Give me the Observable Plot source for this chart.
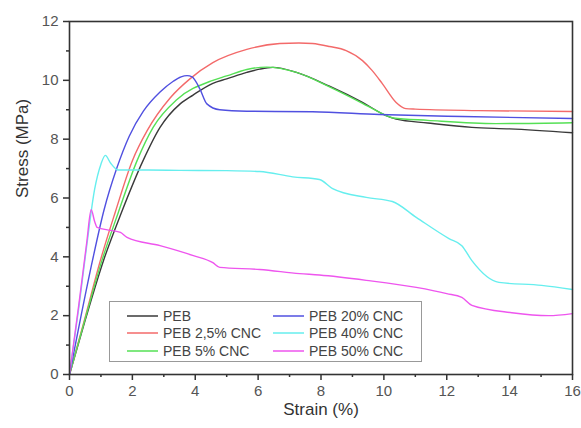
<!DOCTYPE html>
<html>
<head>
<meta charset="utf-8">
<script src="https://cdn.jsdelivr.net/npm/d3@7"></script>
<script src="https://cdn.jsdelivr.net/npm/@observablehq/plot@0.6"></script>
<style>
  body { margin: 0; background: #fff; font-family: "Liberation Sans", Arial, sans-serif; }
  #wrap { position: relative; width: 581px; height: 428px; }
  #legend { position: absolute; left: 109px; top: 301px; width: 313px; height: 61px;
    border: 1.5px solid #999; box-sizing: border-box; background: #fff;
    display: grid; grid-template-columns: 163px 150px; grid-template-rows: repeat(3, 17.5px);
    grid-auto-flow: column; padding-top: 5px; font-size: 14px; color: #444; }
  .item { display: flex; align-items: center; white-space: nowrap; }
  .item svg { margin: 0 5px 0 17px; flex: none; }
  .item.c2 svg { margin-left: 0; }
</style>
</head>
<body>
<div id="wrap"><div id="chart"></div><div id="legend"></div></div>
<script>
const seriesNames = ["PEB", "PEB 2,5% CNC", "PEB 5% CNC", "PEB 20% CNC", "PEB 40% CNC", "PEB 50% CNC"];
const seriesColors = ["#3a3a3a", "#f36a6a", "#55e055", "#5050e0", "#66eeee", "#ee55ee"];

const pebStrain   = [0, 0.5, 1.08, 1.65, 2.34, 2.88, 3.52, 3.93, 4.56, 5.0, 5.64, 6.05, 6.47, 7.22, 8.27, 9.32, 10.07, 10.39, 11.4, 12.8, 14, 16];
const pebStress   = [0, 1.85, 3.87, 5.5, 7.27, 8.4, 9.2, 9.5, 9.9, 10.05, 10.27, 10.38, 10.44, 10.27, 9.8, 9.25, 8.8, 8.68, 8.55, 8.4, 8.35, 8.22];

const peb25Strain = [0, 0.5, 0.98, 1.45, 2.0, 2.47, 3.2, 3.83, 4.56, 5.64, 6.69, 7.3, 7.73, 8.27, 8.8, 9.32, 9.63, 9.95, 10.39, 10.7, 11, 13, 16];
const peb25Stress = [0, 1.95, 3.87, 5.5, 7.27, 8.29, 9.4, 10.05, 10.6, 11.05, 11.25, 11.27, 11.25, 11.15, 11.01, 10.67, 10.33, 9.89, 9.25, 9.04, 9.02, 8.97, 8.94];

const peb5Strain  = [0, 0.5, 1.03, 1.55, 2.15, 2.66, 3.42, 4.56, 5.0, 5.64, 6.27, 7.22, 8.27, 9.32, 9.85, 10.3, 11.4, 13.56, 16];
const peb5Stress  = [0, 1.9, 3.87, 5.5, 7.27, 8.4, 9.35, 10.0, 10.15, 10.37, 10.45, 10.27, 9.78, 9.22, 8.92, 8.72, 8.64, 8.53, 8.56];

const peb20Strain = [0, 0.35, 0.73, 1.1, 1.5, 1.9, 2.35, 2.88, 3.3, 3.55, 3.74, 3.9, 4.15, 4.37, 4.78, 5.64, 7.73, 9.85, 12.5, 16];
const peb20Stress = [0, 1.9, 3.87, 5.6, 7.0, 8.1, 8.95, 9.6, 9.97, 10.12, 10.16, 10.12, 9.7, 9.2, 9.0, 8.95, 8.93, 8.84, 8.77, 8.7];

const peb40Strain = [0, 0.3, 0.55, 0.8, 1.0, 1.14, 1.3, 1.55, 2.5, 3.5, 5.0, 6.05, 7.1, 7.95, 8.37, 9.44, 10.27, 11.03, 12.07, 12.48, 12.8, 13.66, 15.02, 16];
const peb40Stress = [0, 2.3, 4.4, 6.3, 7.15, 7.45, 7.2, 6.95, 6.95, 6.94, 6.93, 6.9, 6.72, 6.63, 6.32, 6.02, 5.88, 5.34, 4.62, 4.38, 3.87, 3.13, 3.03, 2.89];

const peb50Strain = [0, 0.3, 0.55, 0.69, 0.8, 0.88, 1.3, 1.62, 1.83, 2.88, 3.94, 4.56, 4.78, 6.05, 7.32, 7.95, 9.44, 11.03, 12.0, 12.48, 12.8, 14.07, 15.24, 16];
const peb50Stress = [0, 2.4, 4.5, 5.6, 5.2, 5.0, 4.9, 4.83, 4.66, 4.38, 4.04, 3.8, 3.64, 3.57, 3.43, 3.38, 3.2, 2.96, 2.75, 2.62, 2.35, 2.1, 2.0, 2.07];

const xMajor = [0, 2, 4, 6, 8, 10, 12, 14, 16];
const xMinor = [1, 3, 5, 7, 9, 11, 13, 15];
const yMajor = [0, 2, 4, 6, 8, 10, 12];
const yMinor = [1, 3, 5, 7, 9, 11];

const strains = [pebStrain, peb25Strain, peb5Strain, peb20Strain, peb40Strain, peb50Strain];
const stresses = [pebStress, peb25Stress, peb5Stress, peb20Stress, peb40Stress, peb50Stress];

const rows = [];
seriesNames.forEach((name, i) => {
  strains[i].forEach((s, j) => rows.push({series: name, strain: s, stress: stresses[i][j]}));
});

const plot = Plot.plot({
  width: 581,
  height: 428,
  marginLeft: 69,
  marginRight: 9,
  marginTop: 21,
  marginBottom: 54,
  style: {fontFamily: "'Liberation Sans', Arial, sans-serif", background: "#fff"},
  x: {domain: [0, 16]},
  y: {domain: [0, 12]},
  color: {domain: seriesNames, range: seriesColors},
  marks: [
    Plot.line(rows, {x: "strain", y: "stress", z: "series", stroke: "series", strokeWidth: 1.4, curve: "monotone-x"}),
    Plot.frame({stroke: "#333", strokeWidth: 1.6}),
    Plot.axisX({ticks: xMajor, tickSize: 6, tickPadding: 5, fontSize: 15, stroke: "#333", strokeWidth: 1.5, fill: "#555", label: null, tickFormat: d => d}),
    Plot.axisX({ticks: xMinor, tickSize: 3, fontSize: 1, stroke: "#333", strokeWidth: 1.5, label: null, tickFormat: () => ""}),
    Plot.axisY({ticks: yMajor, tickSize: 6, tickPadding: 5, fontSize: 15, stroke: "#333", strokeWidth: 1.5, fill: "#555", label: null, tickFormat: d => d}),
    Plot.axisY({ticks: yMinor, tickSize: 3, fontSize: 1, stroke: "#333", strokeWidth: 1.5, label: null, tickFormat: () => ""}),
    Plot.text(["Strain (%)"], {frameAnchor: "bottom", dy: 40, fontSize: 17, fill: "#333"}),
    Plot.text(["Stress (MPa)"], {frameAnchor: "left", dx: -47, rotate: -90, fontSize: 17, fill: "#333"})
  ]
});
document.getElementById("chart").appendChild(plot);

const legend = document.getElementById("legend");
seriesNames.forEach((name, i) => {
  const it = document.createElement("div");
  it.className = "item" + (i >= 3 ? " c2" : "");
  const ns = "http://www.w3.org/2000/svg";
  const sv = document.createElementNS(ns, "svg");
  sv.setAttribute("width", "31");
  sv.setAttribute("height", "4");
  const ln = document.createElementNS(ns, "line");
  ln.setAttribute("x1", "0"); ln.setAttribute("x2", "31");
  ln.setAttribute("y1", "2"); ln.setAttribute("y2", "2");
  ln.setAttribute("stroke", seriesColors[i]);
  ln.setAttribute("stroke-width", "1.5");
  sv.appendChild(ln);
  it.appendChild(sv);
  const sp = document.createElement("span");
  sp.textContent = name;
  it.appendChild(sp);
  legend.appendChild(it);
});
</script>
</body>
</html>
